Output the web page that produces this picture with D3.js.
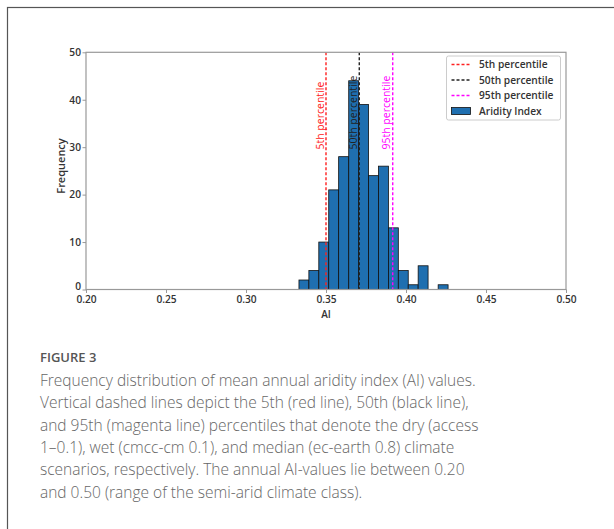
<!DOCTYPE html>
<html>
<head>
<meta charset="utf-8">
<script src="https://cdn.jsdelivr.net/npm/d3@7"></script>
<style>
  body { margin: 0; background: #fff; }
  svg text { font-family: "Open Sans", sans-serif; }
</style>
</head>
<body>
<script>
// histogram bins (lower/upper edges) and counts
var binEdges = [0.3331, 0.3393, 0.3455, 0.3517, 0.3579, 0.3642, 0.3704, 0.3766,
                0.3828, 0.3890, 0.3952, 0.4014, 0.4076, 0.4138, 0.4201, 0.4263];
var counts = [2, 4, 10, 21, 28, 44, 39, 24, 26, 13, 4, 1, 5, 0, 1];

var percentileNames = ['5th percentile', '50th percentile', '95th percentile'];
var percentileValues = [0.350, 0.3708, 0.3917];
var percentileColors = ['#ff2020', '#222222', '#ff00ff'];

var xTicks = [0.20, 0.25, 0.30, 0.35, 0.40, 0.45, 0.50];
var yTicks = [0, 10, 20, 30, 40, 50];

var captionTitle = 'FIGURE 3';
var captionLines = [
  'Frequency distribution of mean annual aridity index (AI) values.',
  'Vertical dashed lines depict the 5th (red line), 50th (black line),',
  'and 95th (magenta line) percentiles that denote the dry (access',
  '1\u20130.1), wet (cmcc-cm 0.1), and median (ec-earth 0.8) climate',
  'scenarios, respectively. The annual AI-values lie between 0.20',
  'and 0.50 (range of the semi-arid climate class).'
];

var bins = counts.map((c, i) => ({x0: binEdges[i], x1: binEdges[i+1], n: c}));

var svg = d3.select('body').append('svg').attr('width', 614).attr('height', 529);

// outer figure frame (only top & left visible)
svg.append('rect').attr('x', 7.5).attr('y', 7.5).attr('width', 640).attr('height', 560)
  .attr('fill', 'none').attr('stroke', '#555').attr('stroke-width', 1.2);

var x = d3.scaleLinear().domain([0.20, 0.50]).range([86, 566]);
var y = d3.scaleLinear().domain([0, 50]).range([289.5, 52.3]);

// bars
svg.selectAll('rect.bar')
  .data(bins)
  .enter().append('rect')
    .attr('class', 'bar')
    .attr('x', d => x(d.x0))
    .attr('y', d => y(d.n))
    .attr('width', d => x(d.x1) - x(d.x0))
    .attr('height', d => y(0) - y(d.n))
    .attr('fill', '#1f6fb0')
    .attr('stroke', d => d.n > 0 ? '#111' : 'none')
    .attr('stroke-width', 0.8);

// percentile lines + labels
percentileValues.forEach((v, i) => {
  svg.append('line')
    .attr('x1', x(v)).attr('x2', x(v))
    .attr('y1', y(50)).attr('y2', y(0))
    .attr('stroke', percentileColors[i])
    .attr('stroke-width', 1.4)
    .attr('stroke-dasharray', '3,2');
  svg.append('text')
    .attr('transform', 'translate(' + (x(v) - 2.5) + ',' + y(29.5) + ') rotate(-90)')
    .attr('font-size', 10.5)
    .attr('fill', percentileColors[i])
    .text(percentileNames[i]);
});

// axes frame
svg.append('rect')
  .attr('x', x(0.20)).attr('y', y(50))
  .attr('width', x(0.50) - x(0.20)).attr('height', y(0) - y(50))
  .attr('fill', 'none').attr('stroke', '#999').attr('stroke-width', 1.2);

var xAxis = svg.append('g').attr('transform', 'translate(0,' + y(0) + ')')
  .call(d3.axisBottom(x).tickValues(xTicks).tickFormat(d3.format('.2f')).tickSize(3.5).tickPadding(3));
var yAxis = svg.append('g').attr('transform', 'translate(' + x(0.20) + ',0)')
  .call(d3.axisLeft(y).tickValues(yTicks).tickSize(3.5).tickPadding(1.5));

[xAxis, yAxis].forEach(g => {
  g.select('.domain').remove();
  g.selectAll('line').attr('stroke', '#999');
  g.selectAll('text').attr('font-size', 10.2).attr('font-weight', 600).attr('fill', '#333')
    .style('font-family', '"Open Sans", sans-serif');
});
// the "0" label sits a touch higher so it clears "0.20"
yAxis.selectAll('.tick').filter(d => d === 0).select('text').attr('dy', '-0.05em');

svg.append('text').attr('x', 326).attr('y', 318).attr('text-anchor', 'middle')
  .attr('font-size', 10).attr('font-weight', 600).attr('fill', '#333').text('AI');
svg.append('text').attr('transform', 'translate(64.5,166) rotate(-90)').attr('text-anchor', 'middle')
  .attr('font-size', 11).attr('font-weight', 600).attr('fill', '#333').text('Frequency');

// legend
var lg = svg.append('g').attr('transform', 'translate(446.5,56)');
lg.append('rect').attr('width', 114).attr('height', 64).attr('rx', 2)
  .attr('fill', '#fff').attr('stroke', '#ccc').attr('stroke-width', 1);
percentileNames.forEach((n, i) => {
  var cy = 8.5 + i * 15.5;
  lg.append('line').attr('x1', 5).attr('x2', 24).attr('y1', cy).attr('y2', cy)
    .attr('stroke', percentileColors[i]).attr('stroke-width', 1.4).attr('stroke-dasharray', '3,2');
  lg.append('text').attr('x', 32.5).attr('y', cy + 3.6).attr('font-size', 10.2).attr('font-weight', 600)
    .attr('fill', '#333').text(n);
});
lg.append('rect').attr('x', 5).attr('y', 51.5).attr('width', 19).attr('height', 7)
  .attr('fill', '#1f6fb0').attr('stroke', '#111').attr('stroke-width', 0.8);
lg.append('text').attr('x', 32.5).attr('y', 58.6).attr('font-size', 10.2).attr('font-weight', 600)
  .attr('fill', '#333').text('Aridity Index');

// caption
svg.append('text').attr('x', 40).attr('y', 362).attr('font-size', 13).attr('font-weight', 600)
  .attr('fill', '#555').text(captionTitle);
svg.selectAll('text.cap')
  .data(captionLines)
  .enter().append('text')
    .attr('class', 'cap')
    .attr('x', 40)
    .attr('y', (d, i) => 386 + i * 22.3)
    .attr('font-size', 15.5)
    .attr('font-weight', 300)
    .attr('fill', '#666')
    .text(d => d);
</script>
</body>
</html>
